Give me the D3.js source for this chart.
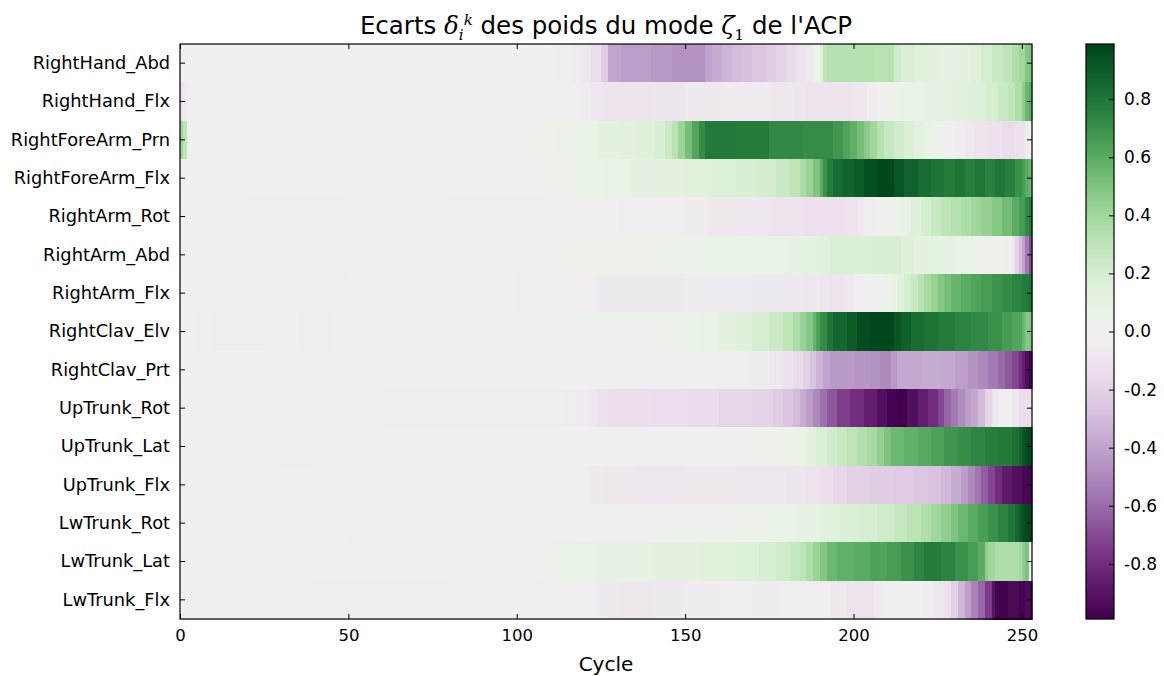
<!DOCTYPE html>
<html>
<head>
<meta charset="utf-8">
<script src="https://cdn.jsdelivr.net/npm/d3@7"></script>
<style>
  html, body { margin: 0; padding: 0; background: #ffffff; }
  svg { display: block; font-family: "DejaVu Sans", sans-serif; }
</style>
</head>
<body>
<svg id="chart" width="1164" height="676"></svg>
<script>
// Joint labels, top to bottom
const jointLabels = [
  "RightHand_Abd", "RightHand_Flx", "RightForeArm_Prn", "RightForeArm_Flx",
  "RightArm_Rot", "RightArm_Abd", "RightArm_Flx", "RightClav_Elv",
  "RightClav_Prt", "UpTrunk_Rot", "UpTrunk_Lat", "UpTrunk_Flx",
  "LwTrunk_Rot", "LwTrunk_Lat", "LwTrunk_Flx"
];

// Weight deviations per cycle, run-length encoded: [first cycle, value],
// each value holds until the next run starts (253 cycles in total).
const nCycles = 253;

const rightHandAbd = [[0,0.0],[12,0.01],[40,0.0],[70,0.01],[100,0.0],[112,-0.02],[116,-0.05],[119,-0.08],[122,-0.14],[125,-0.22],[127,-0.4],[131,-0.42],[140,-0.44],[146,-0.47],[156,-0.4],[158,-0.36],[161,-0.33],[164,-0.3],[167,-0.28],[170,-0.25],[174,-0.22],[177,-0.19],[180,-0.15],[183,-0.11],[186,-0.06],[188,-0.01],[189,0.04],[190,0.15],[191,0.3],[192,0.33],[206,0.32],[212,0.22],[214,0.17],[218,0.14],[222,0.12],[226,0.1],[231,0.12],[235,0.15],[238,0.2],[241,0.25],[244,0.3],[247,0.35],[249,0.4],[251,0.48],[252,0.5]];

const rightHandFlx = [[0,-0.12],[1,-0.05],[2,0.0],[30,-0.01],[60,0.0],[90,-0.01],[112,-0.02],[118,-0.05],[122,-0.08],[126,-0.1],[140,-0.09],[150,-0.06],[160,-0.05],[175,-0.07],[182,-0.09],[186,-0.1],[200,-0.08],[204,-0.04],[207,0.0],[210,0.04],[214,0.07],[220,0.1],[228,0.12],[234,0.16],[239,0.2],[243,0.25],[246,0.3],[248,0.35],[250,0.45],[251,0.55],[252,0.6]];

const rightForeArmPrn = [[0,0.4],[1,0.3],[2,0.05],[3,0.0],[50,0.01],[100,0.02],[106,0.04],[112,0.06],[118,0.08],[124,0.11],[130,0.13],[136,0.15],[141,0.18],[144,0.25],[146,0.32],[148,0.42],[150,0.52],[152,0.62],[154,0.72],[156,0.79],[165,0.78],[175,0.73],[185,0.72],[194,0.68],[197,0.63],[199,0.58],[201,0.52],[203,0.46],[205,0.4],[207,0.33],[209,0.27],[212,0.22],[215,0.17],[218,0.12],[221,0.08],[224,0.03],[227,0.0],[230,-0.04],[233,-0.07],[236,-0.1],[240,-0.12],[244,-0.15],[248,-0.12],[251,-0.06],[252,-0.02]];

const rightForeArmFlx = [[0,0.01],[30,0.02],[80,0.02],[100,0.03],[110,0.05],[118,0.07],[126,0.09],[134,0.11],[142,0.12],[150,0.14],[158,0.16],[165,0.18],[172,0.21],[177,0.25],[181,0.3],[184,0.36],[186,0.42],[188,0.5],[190,0.6],[191,0.7],[192,0.78],[194,0.84],[197,0.87],[200,0.9],[203,0.95],[207,0.98],[212,0.93],[215,0.88],[219,0.84],[223,0.81],[227,0.78],[230,0.81],[233,0.77],[236,0.8],[239,0.76],[242,0.8],[245,0.76],[248,0.7],[250,0.65],[251,0.6],[252,0.55]];

const rightArmRot = [[0,0.0],[20,-0.01],[50,0.0],[80,-0.01],[118,-0.02],[130,-0.03],[140,-0.04],[150,-0.05],[157,-0.07],[165,-0.08],[175,-0.1],[185,-0.12],[198,-0.1],[201,-0.07],[203,-0.04],[206,-0.01],[209,0.02],[211,0.06],[214,0.1],[217,0.15],[220,0.2],[223,0.26],[226,0.3],[229,0.33],[232,0.36],[235,0.4],[238,0.43],[241,0.48],[244,0.53],[247,0.6],[249,0.66],[251,0.73],[252,0.78]];

const rightArmAbd = [[0,0.01],[20,0.02],[100,0.03],[115,0.04],[125,0.05],[140,0.06],[155,0.08],[170,0.09],[180,0.1],[187,0.12],[191,0.15],[193,0.17],[205,0.18],[214,0.15],[218,0.12],[224,0.1],[230,0.08],[236,0.06],[240,0.04],[243,0.02],[245,-0.02],[247,-0.1],[248,-0.2],[249,-0.3],[250,-0.4],[251,-0.55],[252,-0.7]];

const rightArmFlx = [[0,0.0],[20,-0.01],[50,0.0],[100,-0.01],[115,-0.02],[120,-0.04],[124,-0.06],[150,-0.05],[170,-0.06],[185,-0.07],[190,-0.09],[193,-0.1],[197,-0.08],[200,-0.03],[203,0.0],[206,0.02],[209,0.05],[211,0.09],[213,0.14],[215,0.2],[217,0.26],[219,0.32],[221,0.38],[223,0.43],[225,0.48],[227,0.52],[229,0.56],[232,0.6],[235,0.63],[238,0.66],[241,0.69],[244,0.72],[247,0.75],[250,0.78],[252,0.8]];

const rightClavElv = [[0,0.0],[5,-0.02],[10,-0.03],[25,-0.02],[35,-0.03],[45,-0.01],[60,0.0],[90,0.01],[110,0.02],[125,0.03],[140,0.05],[150,0.07],[155,0.09],[160,0.12],[165,0.15],[170,0.2],[175,0.25],[179,0.3],[182,0.36],[184,0.42],[186,0.48],[188,0.56],[189,0.64],[190,0.72],[192,0.8],[194,0.86],[198,0.9],[201,0.96],[205,0.98],[212,0.92],[214,0.88],[217,0.84],[221,0.81],[225,0.78],[230,0.75],[235,0.73],[240,0.7],[244,0.66],[247,0.62],[250,0.55],[251,0.48],[252,0.5]];

const rightClavPrt = [[0,0.0],[30,-0.01],[60,0.0],[130,-0.01],[150,-0.02],[160,-0.03],[168,-0.05],[175,-0.08],[179,-0.11],[182,-0.15],[185,-0.2],[187,-0.26],[189,-0.33],[191,-0.4],[193,-0.44],[200,-0.45],[205,-0.47],[208,-0.5],[211,-0.44],[213,-0.38],[220,-0.37],[226,-0.38],[230,-0.42],[234,-0.46],[237,-0.5],[240,-0.55],[243,-0.6],[245,-0.66],[247,-0.72],[249,-0.8],[250,-0.86],[251,-0.93],[252,-0.97]];

const upTrunkRot = [[0,0.0],[50,-0.01],[114,-0.03],[118,-0.05],[121,-0.08],[124,-0.11],[127,-0.13],[140,-0.14],[150,-0.15],[160,-0.17],[170,-0.19],[176,-0.22],[179,-0.26],[182,-0.3],[184,-0.36],[186,-0.42],[188,-0.5],[190,-0.58],[192,-0.66],[195,-0.74],[199,-0.8],[203,-0.86],[207,-0.92],[210,-0.97],[213,-0.99],[216,-0.92],[219,-0.86],[222,-0.8],[225,-0.72],[227,-0.62],[229,-0.55],[231,-0.48],[233,-0.42],[235,-0.38],[237,-0.3],[239,-0.18],[241,-0.08],[243,-0.02],[247,-0.08],[249,-0.15],[251,-0.13],[252,-0.12]];

const upTrunkLat = [[0,0.0],[30,-0.01],[60,0.0],[140,0.01],[160,0.02],[170,0.04],[178,0.06],[183,0.08],[186,0.12],[189,0.17],[192,0.22],[195,0.26],[198,0.3],[201,0.34],[204,0.38],[207,0.44],[209,0.5],[211,0.55],[215,0.58],[219,0.61],[223,0.64],[227,0.68],[231,0.71],[235,0.74],[239,0.77],[243,0.79],[247,0.82],[249,0.86],[250,0.92],[251,0.96],[252,0.98]];

const upTrunkFlx = [[0,0.0],[40,-0.01],[80,0.0],[105,-0.01],[112,-0.02],[118,-0.04],[122,-0.06],[126,-0.07],[135,-0.08],[150,-0.07],[165,-0.08],[180,-0.09],[186,-0.1],[190,-0.13],[194,-0.17],[198,-0.2],[205,-0.22],[212,-0.23],[218,-0.25],[222,-0.27],[226,-0.31],[229,-0.36],[232,-0.42],[234,-0.5],[236,-0.56],[238,-0.64],[240,-0.72],[242,-0.8],[244,-0.87],[247,-0.92],[250,-0.96],[252,-0.97]];

const lwTrunkRot = [[0,0.0],[50,-0.01],[100,0.0],[140,0.01],[155,0.02],[165,0.04],[175,0.07],[183,0.1],[190,0.14],[196,0.17],[202,0.2],[207,0.23],[212,0.27],[216,0.31],[220,0.35],[223,0.4],[226,0.45],[229,0.5],[231,0.55],[234,0.6],[237,0.65],[240,0.7],[243,0.75],[246,0.8],[248,0.85],[249,0.9],[250,0.95],[251,0.98],[252,0.99]];

const lwTrunkLat = [[0,0.0],[20,0.01],[60,0.0],[100,0.02],[106,0.03],[110,0.05],[114,0.07],[118,0.09],[123,0.1],[140,0.12],[155,0.14],[165,0.16],[172,0.19],[177,0.23],[181,0.27],[184,0.31],[186,0.36],[188,0.42],[190,0.48],[192,0.55],[195,0.58],[200,0.6],[205,0.63],[210,0.66],[214,0.7],[218,0.74],[221,0.78],[226,0.75],[230,0.7],[234,0.66],[237,0.6],[239,0.45],[240,0.4],[242,0.35],[249,0.38],[250,0.45],[251,0.5],[252,0.0]];

const lwTrunkFlx = [[0,0.0],[40,-0.01],[80,0.0],[105,-0.01],[112,-0.02],[118,-0.04],[124,-0.06],[130,-0.07],[140,-0.06],[150,-0.05],[160,-0.04],[170,-0.05],[178,-0.03],[185,-0.04],[193,-0.07],[198,-0.1],[203,-0.1],[206,-0.05],[209,-0.01],[214,0.0],[220,-0.03],[224,-0.08],[227,-0.12],[229,-0.2],[231,-0.32],[233,-0.42],[235,-0.52],[237,-0.62],[239,-0.75],[241,-0.9],[242,-0.98],[246,-0.95],[249,-0.97],[251,-0.94],[252,-0.96]];

const rowRuns = [
  rightHandAbd, rightHandFlx, rightForeArmPrn, rightForeArmFlx,
  rightArmRot, rightArmAbd, rightArmFlx, rightClavElv,
  rightClavPrt, upTrunkRot, upTrunkLat, upTrunkFlx,
  lwTrunkRot, lwTrunkLat, lwTrunkFlx
];

const xTicks = [0, 50, 100, 150, 200, 250];
const colorTicks = [-0.8, -0.6, -0.4, -0.2, 0.0, 0.2, 0.4, 0.6, 0.8];
const colorLimit = 0.99;

// Layout
const W = 1164, H = 676;
const plot = { left: 180, right: 1032, top: 44, bottom: 619 };
const cbar = { left: 1086, right: 1114 };
const tickLen = 5;

const svg = d3.select("#chart");
svg.append("rect").attr("width", W).attr("height", H).attr("fill", "#ffffff");

const x = d3.scaleLinear().domain([0, nCycles]).range([plot.left, plot.right]);
const y = d3.scaleBand().domain(jointLabels).range([plot.top, plot.bottom]).padding(0);
const color = d3.scaleSequential(d3.interpolatePRGn).domain([-colorLimit, colorLimit]).clamp(true);

// Flatten the runs into cells
const cells = [];
rowRuns.forEach((runs, r) => {
  runs.forEach((run, i) => {
    const start = run[0];
    const end = i + 1 < runs.length ? runs[i + 1][0] : nCycles;
    cells.push({ label: jointLabels[r], start, end, value: run[1] });
  });
});

const heat = svg.append("g").attr("shape-rendering", "crispEdges");
heat.selectAll("rect")
  .data(cells)
  .join("rect")
  .attr("x", d => x(d.start))
  .attr("y", d => y(d.label))
  .attr("width", d => x(d.end) - x(d.start) + 0.6)
  .attr("height", y.bandwidth() + 0.5)
  .attr("fill", d => color(d.value));

// Clip overshoot at the right edge
svg.append("rect")
  .attr("x", plot.right + 0.5).attr("y", plot.top - 1)
  .attr("width", 10).attr("height", plot.bottom - plot.top + 2)
  .attr("fill", "#ffffff");

// Axes (matplotlib classic: ticks inside, on all four sides)
const axisBottom = d3.axisBottom(x).tickValues(xTicks).tickSizeInner(-tickLen).tickSizeOuter(0).tickPadding(10).tickFormat(d3.format("d"));
const gb = svg.append("g").attr("transform", `translate(0,${plot.bottom})`).call(axisBottom);
const axisTop = d3.axisTop(x).tickValues(xTicks).tickSizeInner(-tickLen).tickSizeOuter(0).tickFormat("");
const gt = svg.append("g").attr("transform", `translate(0,${plot.top})`).call(axisTop);

const axisLeft = d3.axisLeft(y).tickSizeInner(-tickLen).tickSizeOuter(0).tickPadding(10);
const gl = svg.append("g").attr("transform", `translate(${plot.left},0)`).call(axisLeft);
const axisRight = d3.axisRight(y).tickSizeInner(-tickLen).tickSizeOuter(0).tickFormat("");
const gr = svg.append("g").attr("transform", `translate(${plot.right},0)`).call(axisRight);

[gb, gt, gl, gr].forEach(g => {
  g.select(".domain").remove();
  g.selectAll(".tick line").attr("stroke", "#000").attr("stroke-width", 1);
  g.selectAll("text").attr("font-family", "DejaVu Sans").attr("fill", "#000");
});
gb.selectAll("text").attr("font-size", 16.5);
gl.selectAll("text").attr("font-size", 17.8);

// Frame
svg.append("rect")
  .attr("x", plot.left).attr("y", plot.top)
  .attr("width", plot.right - plot.left).attr("height", plot.bottom - plot.top)
  .attr("fill", "none").attr("stroke", "#000").attr("stroke-width", 1.2);

// Axis label
svg.append("text")
  .attr("x", (plot.left + plot.right) / 2).attr("y", 671)
  .attr("text-anchor", "middle")
  .attr("font-size", 20).attr("fill", "#000")
  .text("Cycle");

// Title with math symbols (delta with stacked sub/superscript, zeta with subscript)
const title = svg.append("text")
  .attr("x", (plot.left + plot.right) / 2).attr("y", 34)
  .attr("text-anchor", "middle")
  .attr("font-size", 24.5).attr("fill", "#000");
title.append("tspan").text("Ecarts ");
title.append("tspan").attr("font-family", "DejaVu Serif").attr("font-style", "italic").text("δ");
title.append("tspan").attr("font-family", "DejaVu Serif").attr("font-style", "italic").attr("font-size", 15).attr("dy", 6).text("i");
title.append("tspan").attr("font-family", "DejaVu Serif").attr("font-style", "italic").attr("font-size", 15).attr("dx", 0).attr("dy", -15).text("k");
title.append("tspan").attr("dy", 9).text(" des poids du mode ");
title.append("tspan").attr("font-family", "DejaVu Serif").attr("font-style", "italic").text("ζ");
title.append("tspan").attr("font-family", "DejaVu Serif").attr("font-size", 15).attr("dy", 6).text("1");
title.append("tspan").attr("dy", -6).text(" de l'ACP");

// Colorbar
const cy = d3.scaleLinear().domain([-colorLimit, colorLimit]).range([plot.bottom, plot.top]);
const defs = svg.append("defs");
const grad = defs.append("linearGradient").attr("id", "cbarGrad")
  .attr("x1", 0).attr("y1", 1).attr("x2", 0).attr("y2", 0);
d3.range(0, 1.0001, 0.02).forEach(t => {
  grad.append("stop").attr("offset", t).attr("stop-color", d3.interpolatePRGn(t));
});
svg.append("rect")
  .attr("x", cbar.left).attr("y", plot.top)
  .attr("width", cbar.right - cbar.left).attr("height", plot.bottom - plot.top)
  .attr("fill", "url(#cbarGrad)")
  .attr("stroke", "#000").attr("stroke-width", 1.2);

const cAxis = d3.axisRight(cy).tickValues(colorTicks).tickSizeInner(-tickLen).tickSizeOuter(0).tickPadding(10).tickFormat(d3.format(".1f"));
const gc = svg.append("g").attr("transform", `translate(${cbar.right},0)`).call(cAxis);
gc.select(".domain").remove();
gc.selectAll(".tick line").attr("stroke", "#000");
gc.selectAll("text").attr("font-family", "DejaVu Sans").attr("font-size", 17).attr("fill", "#000")
  .text(d => d3.format(".1f")(d).replace("−", "-"));
</script>
</body>
</html>
